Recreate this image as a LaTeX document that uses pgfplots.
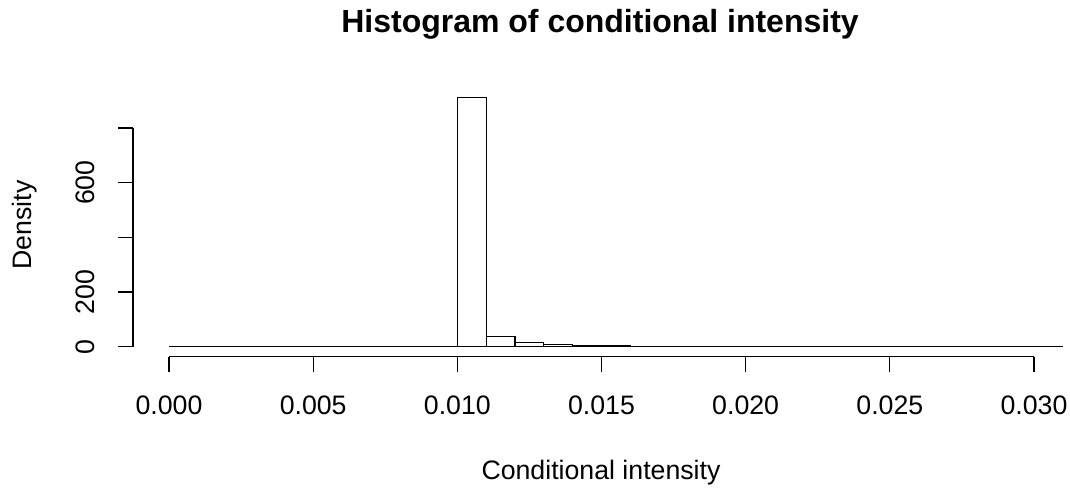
\documentclass[border=0pt]{standalone}
\usepackage{fontspec}
\setmainfont{Liberation Sans}
\usepackage{pgfplots}
\pgfplotsset{compat=1.18}
\begin{document}
\fontsize{26.7}{32}\selectfont
\begin{tikzpicture}[x=1pt,y=1pt]
\useasboundingbox (0,0) rectangle (1070,487);
\begin{axis}[
  at={(169pt,140.3pt)}, anchor=south west,
  scale only axis, width=893.8pt, height=251.5pt,
  xmin=0, xmax=0.031, ymin=0, ymax=920,
  hide axis, clip=false,
]
\addplot[ybar interval, draw=black, fill=white, line width=1.15pt] coordinates {
(0.000,0) (0.001,0) (0.002,0) (0.003,0) (0.004,0) (0.005,0) (0.006,0) (0.007,0) (0.008,0) (0.009,0)
(0.010,911) (0.011,36.5) (0.012,14.6) (0.013,7.3) (0.014,5) (0.015,3.4) (0.016,2.2) (0.017,1.7)
(0.018,1.4) (0.019,1.2) (0.020,1.0) (0.021,0.9) (0.022,0.8) (0.023,0.7) (0.024,0.6) (0.025,0.5)
(0.026,0.4) (0.027,0.3) (0.028,0.3) (0.029,0.2) (0.030,0.2) (0.031,0)
};
% x axis
\draw[line width=1.15pt] (axis cs:0,-36.6) -- (axis cs:0.030,-36.6);
\foreach \xv/\lab in {0/0.000,0.005/0.005,0.01/0.010,0.015/0.015,0.02/0.020,0.025/0.025,0.03/0.030}{
  \edef\tmp{\noexpand\draw[line width=1.15pt] (axis cs:\xv,-36.6) -- ++(0,-15pt);
    \noexpand\node[anchor=base, inner sep=0pt] at (axis cs:\xv,-249.8) {\lab};}
  \tmp
}
% y axis
\draw[line width=1.15pt] (axis cs:-0.00125,0) -- (axis cs:-0.00125,800);
\foreach \yv in {0,200,400,600,800}{
  \edef\tmp{\noexpand\draw[line width=1.15pt] (axis cs:-0.00125,\yv) -- ++(-15pt,0);}
  \tmp
}
\foreach \yv in {0,200,600}{
  \edef\tmp{\noexpand\node[rotate=90, anchor=base, inner sep=0pt] at (axis cs:-0.00257,\yv) {\yv};}
  \tmp
}
\end{axis}
\node[rotate=90, anchor=base, inner sep=0pt] at (31,262) {Density};
\node[anchor=base, inner sep=0pt] at (601,8) {Conditional intensity};
\node[anchor=base, inner sep=0pt, font=\bfseries\fontsize{32}{38}\selectfont] at (600,454) {Histogram of conditional intensity};
\end{tikzpicture}
\end{document}
